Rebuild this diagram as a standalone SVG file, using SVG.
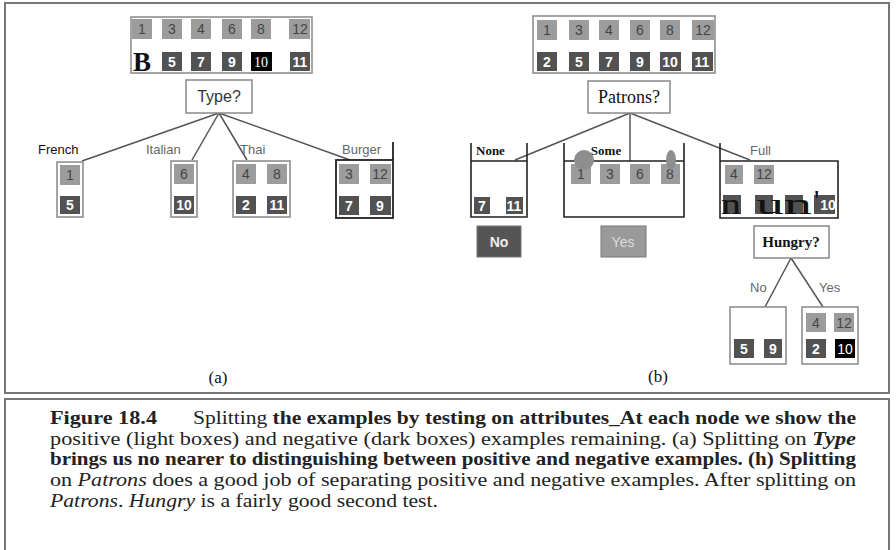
<svg xmlns="http://www.w3.org/2000/svg" width="896" height="550" viewBox="0 0 896 550">
<style>
.frame{fill:none;stroke:#777;stroke-width:2}
.box{fill:#fff;stroke:#888;stroke-width:1.5}
.bbox{fill:none;stroke:#222;stroke-width:1.8}
.lt{fill:#9c9c9c}
.dk{fill:#525252}
.bk{fill:#000}
.nl{font-family:"Liberation Sans",Arial,sans-serif;font-size:14px;text-anchor:middle;fill:#444}
.nd{font-family:"Liberation Sans",Arial,sans-serif;font-size:14px;font-weight:bold;text-anchor:middle;fill:#fff}
.nb{font-family:"Liberation Serif","Times New Roman",serif;font-size:14px;text-anchor:middle;fill:#fff}
.lbl{font-family:"Liberation Sans",Arial,sans-serif;font-size:13px;fill:#666}
.lblk{font-family:"Liberation Sans",Arial,sans-serif;font-size:13px;fill:#111}
.ser{font-family:"Liberation Serif","Times New Roman",serif;fill:#111}
.conn line{stroke:#555;stroke-width:1.5}
.cap{font-family:"Liberation Serif","Times New Roman",serif;font-size:19px;fill:#222}
</style>
<rect width="896" height="550" fill="#fff"/>
<rect class="frame" x="5" y="3" width="884" height="390"/>
<path class="frame" d="M5,550 V399 H889 V550"/>

<g id="connectors" class="conn">
<line x1="219" y1="113" x2="82" y2="161"/>
<line x1="219" y1="113" x2="192" y2="160"/>
<line x1="219" y1="113" x2="247" y2="160"/>
<line x1="219" y1="113" x2="350" y2="160"/>
<line x1="630" y1="113" x2="515" y2="160"/>
<line x1="630" y1="113" x2="630" y2="161"/>
<line x1="630" y1="113" x2="750" y2="160"/>
<line x1="791" y1="258" x2="765" y2="307"/>
<line x1="791" y1="258" x2="823" y2="307"/>
</g>

<!-- Panel (a) -->
<g id="a-root">
<rect class="box" x="131" y="17" width="181" height="56"/>
<rect class="lt" x="132" y="19" width="20" height="20"/><text class="nl" x="142" y="34">1</text>
<rect class="lt" x="162" y="19" width="20" height="20"/><text class="nl" x="172" y="34">3</text>
<rect class="lt" x="191" y="19" width="20" height="20"/><text class="nl" x="201" y="34">4</text>
<rect class="lt" x="222" y="19" width="20" height="20"/><text class="nl" x="232" y="34">6</text>
<rect class="lt" x="251" y="19" width="20" height="20"/><text class="nl" x="261" y="34">8</text>
<rect class="lt" x="289" y="19" width="21" height="20"/><text class="nl" x="300" y="34">12</text>
<text class="ser" x="142" y="71" font-size="27" font-weight="bold" text-anchor="middle" fill="#000">B</text>
<rect class="dk" x="162" y="52" width="20" height="19"/><text class="nd" x="172" y="67">5</text>
<rect class="dk" x="191" y="52" width="20" height="19"/><text class="nd" x="201" y="67">7</text>
<rect class="dk" x="222" y="52" width="20" height="19"/><text class="nd" x="232" y="67">9</text>
<rect class="bk" x="251" y="52" width="21" height="19"/><text class="nb" x="261" y="67">10</text>
<rect class="dk" x="290" y="52" width="20" height="19"/><text class="nd" x="300" y="67">11</text>
</g>
<g id="a-type">
<rect class="box" x="186" y="80" width="66" height="33"/>
<text x="219" y="102" font-family="Liberation Sans,Arial,sans-serif" font-size="16" text-anchor="middle" fill="#333">Type?</text>
</g>
<g id="a-french">
<text class="lblk" x="38" y="154">French</text>
<rect class="box" x="57" y="162" width="26" height="55"/>
<rect class="lt" x="60" y="165" width="20" height="20"/><text class="nl" x="70" y="180">1</text>
<rect class="dk" x="60" y="196" width="20" height="18"/><text class="nd" x="70" y="210">5</text>
</g>
<g id="a-italian">
<text class="lbl" x="146" y="154">Italian</text>
<rect class="box" x="171" y="161" width="26" height="56"/>
<rect class="lt" x="174" y="164" width="20" height="20"/><text class="nl" x="184" y="179">6</text>
<rect class="dk" x="174" y="196" width="20" height="18"/><text class="nd" x="184" y="210">10</text>
</g>
<g id="a-thai">
<text class="lbl" x="240" y="154">Thai</text>
<rect class="box" x="233" y="161" width="57" height="56"/>
<rect class="lt" x="236" y="164" width="20" height="20"/><text class="nl" x="246" y="179">4</text>
<rect class="lt" x="267" y="164" width="20" height="20"/><text class="nl" x="277" y="179">8</text>
<rect class="dk" x="236" y="196" width="20" height="18"/><text class="nd" x="246" y="210">2</text>
<rect class="dk" x="267" y="196" width="20" height="18"/><text class="nd" x="277" y="210">11</text>
</g>
<g id="a-burger">
<text class="lbl" x="342" y="154">Burger</text>
<rect class="bbox" x="336" y="160" width="57" height="58"/>
<line x1="393" y1="142" x2="393" y2="160" stroke="#222" stroke-width="1.8"/>
<rect class="lt" x="339" y="164" width="20" height="20"/><text class="nl" x="349" y="179">3</text>
<rect class="lt" x="370" y="164" width="21" height="20"/><text class="nl" x="380" y="179">12</text>
<rect class="dk" x="339" y="196" width="20" height="19"/><text class="nd" x="349" y="211">7</text>
<rect class="dk" x="370" y="196" width="21" height="19"/><text class="nd" x="380" y="211">9</text>
</g>
<text class="ser" x="218" y="383" font-size="17" text-anchor="middle">(a)</text>

<!-- Panel (b) -->
<g id="b-root">
<rect class="box" x="533" y="16" width="182" height="57"/>
<rect class="lt" x="537" y="20" width="20" height="20"/><text class="nl" x="547" y="35">1</text>
<rect class="lt" x="569" y="20" width="20" height="20"/><text class="nl" x="579" y="35">3</text>
<rect class="lt" x="599" y="20" width="20" height="20"/><text class="nl" x="609" y="35">4</text>
<rect class="lt" x="630" y="20" width="20" height="20"/><text class="nl" x="640" y="35">6</text>
<rect class="lt" x="660" y="20" width="20" height="20"/><text class="nl" x="670" y="35">8</text>
<rect class="lt" x="692" y="20" width="22" height="20"/><text class="nl" x="703" y="35">12</text>
<rect class="dk" x="537" y="52" width="20" height="19"/><text class="nd" x="547" y="67">2</text>
<rect class="dk" x="569" y="52" width="20" height="19"/><text class="nd" x="579" y="67">5</text>
<rect class="dk" x="599" y="52" width="20" height="19"/><text class="nd" x="609" y="67">7</text>
<rect class="dk" x="630" y="52" width="20" height="19"/><text class="nd" x="640" y="67">9</text>
<rect class="dk" x="660" y="52" width="21" height="19"/><text class="nd" x="670" y="67">10</text>
<rect class="dk" x="692" y="52" width="21" height="19"/><text class="nd" x="702" y="67">11</text>
</g>
<g id="b-patrons">
<rect class="box" x="588" y="81" width="82" height="32"/>
<text class="ser" x="629" y="103" font-size="18" text-anchor="middle">Patrons?</text>
</g>
<g id="b-none">
<text class="ser" x="476" y="155" font-size="13" font-weight="bold">None</text>
<path d="M471,143 V217 H527 V143 M471,161 H527" fill="none" stroke="#222" stroke-width="1.6"/>
<rect class="dk" x="474" y="197" width="16" height="17"/><text class="nd" x="482" y="211" font-size="13">7</text>
<rect class="dk" x="506" y="197" width="17" height="17"/><text class="nd" x="514" y="211" font-size="13">11</text>
</g>
<g id="b-some">
<text class="ser" x="606" y="155" font-size="13" font-weight="bold" text-anchor="middle">Some</text>
<path d="M564,143 V217 H684 V143 M564,161 H684" fill="none" stroke="#222" stroke-width="1.6"/>
<rect class="lt" x="571" y="164" width="20" height="20"/><text class="nl" x="581" y="179">1</text>
<rect class="lt" x="600" y="164" width="20" height="20"/><text class="nl" x="610" y="179">3</text>
<rect class="lt" x="630" y="164" width="20" height="20"/><text class="nl" x="640" y="179">6</text>
<rect class="lt" x="661" y="164" width="19" height="20"/><text class="nl" x="670" y="179">8</text>
<circle cx="584" cy="160" r="10" fill="#8e8e8e"/>
<ellipse cx="671" cy="160" rx="5" ry="10" fill="#8e8e8e"/>
</g>
<g id="b-full">
<text class="lbl" x="750" y="155">Full</text>
<path d="M720,143 V218 H838 V161 H720" fill="none" stroke="#222" stroke-width="1.6"/>
<rect class="lt" x="725" y="165" width="18" height="19"/><text class="nl" x="734" y="179">4</text>
<rect class="lt" x="754" y="165" width="20" height="19"/><text class="nl" x="764" y="179">12</text>
<rect class="dk" x="723" y="195" width="18" height="19"/>
<rect class="dk" x="755" y="195" width="18" height="19"/>
<rect class="dk" x="785" y="195" width="18" height="19"/>
<rect class="dk" x="814" y="195" width="21" height="19"/><text class="nd" x="828" y="210">10</text>
<text class="ser" x="721" y="214" font-size="30" fill="#000" textLength="20" lengthAdjust="spacingAndGlyphs">n</text>
<text class="ser" x="756" y="214" font-size="30" fill="#000" textLength="56" lengthAdjust="spacingAndGlyphs">un</text>
<text class="ser" x="814" y="210" font-size="30" fill="#000">'</text>
</g>
<g id="b-no">
<rect x="477" y="226" width="44" height="31" fill="#555" stroke="#777" stroke-width="1"/>
<text x="499" y="247" font-family="Liberation Sans,Arial,sans-serif" font-size="14" font-weight="bold" text-anchor="middle" fill="#eee">No</text>
</g>
<g id="b-yes">
<rect x="601" y="226" width="45" height="31" fill="#9a9a9a" stroke="#777" stroke-width="1"/>
<text x="623" y="247" font-family="Liberation Sans,Arial,sans-serif" font-size="14" text-anchor="middle" fill="#ddd">Yes</text>
</g>
<g id="b-hungry">
<rect class="box" x="754" y="226" width="75" height="32"/>
<text class="ser" x="791" y="247" font-size="15" font-weight="bold" text-anchor="middle">Hungry?</text>
</g>
<text class="lbl" x="750" y="292">No</text>
<text class="lbl" x="819" y="292">Yes</text>
<g id="b-hno">
<rect class="box" x="730" y="307" width="56" height="57"/>
<rect class="dk" x="734" y="339" width="20" height="19"/><text class="nd" x="744" y="354">5</text>
<rect class="dk" x="764" y="339" width="18" height="19"/><text class="nd" x="773" y="354">9</text>
</g>
<g id="b-hyes">
<rect class="box" x="802" y="307" width="56" height="57"/>
<rect class="lt" x="806" y="313" width="20" height="19"/><text class="nl" x="816" y="328">4</text>
<rect class="lt" x="834" y="313" width="20" height="19"/><text class="nl" x="844" y="328">12</text>
<rect class="dk" x="806" y="339" width="20" height="19"/><text class="nd" x="816" y="354">2</text>
<rect class="bk" x="835" y="339" width="20" height="19"/><text x="845" y="354" font-family="Liberation Sans,Arial,sans-serif" font-size="14" text-anchor="middle" fill="#fff">10</text>
</g>
<text class="ser" x="658" y="382" font-size="17" text-anchor="middle">(b)</text>

<!-- Caption -->
<text class="cap" x="50" y="424" textLength="107" lengthAdjust="spacingAndGlyphs" font-weight="bold">Figure 18.4</text>
<text class="cap" x="193" y="424" textLength="663" lengthAdjust="spacingAndGlyphs">Splitting <tspan font-weight="bold">the examples by testing on attributes_At each node we show the</tspan></text>
<text class="cap" x="50" y="445" textLength="806" lengthAdjust="spacingAndGlyphs">positive (light boxes) and negative (dark boxes) examples remaining. (a) Splitting on <tspan font-style="italic" font-weight="bold">Type</tspan></text>
<text class="cap" x="50" y="465" textLength="806" lengthAdjust="spacingAndGlyphs" font-weight="bold">brings us no nearer to distinguishing between positive and negative examples. (h) Splitting</text>
<text class="cap" x="50" y="486" textLength="806" lengthAdjust="spacingAndGlyphs">on <tspan font-style="italic">Patrons</tspan> does a good job of separating positive and negative examples. After splitting on</text>
<text class="cap" x="50" y="507" textLength="388" lengthAdjust="spacingAndGlyphs"><tspan font-style="italic">Patrons</tspan>. <tspan font-style="italic">Hungry</tspan> is a fairly good second test.</text>
</svg>
